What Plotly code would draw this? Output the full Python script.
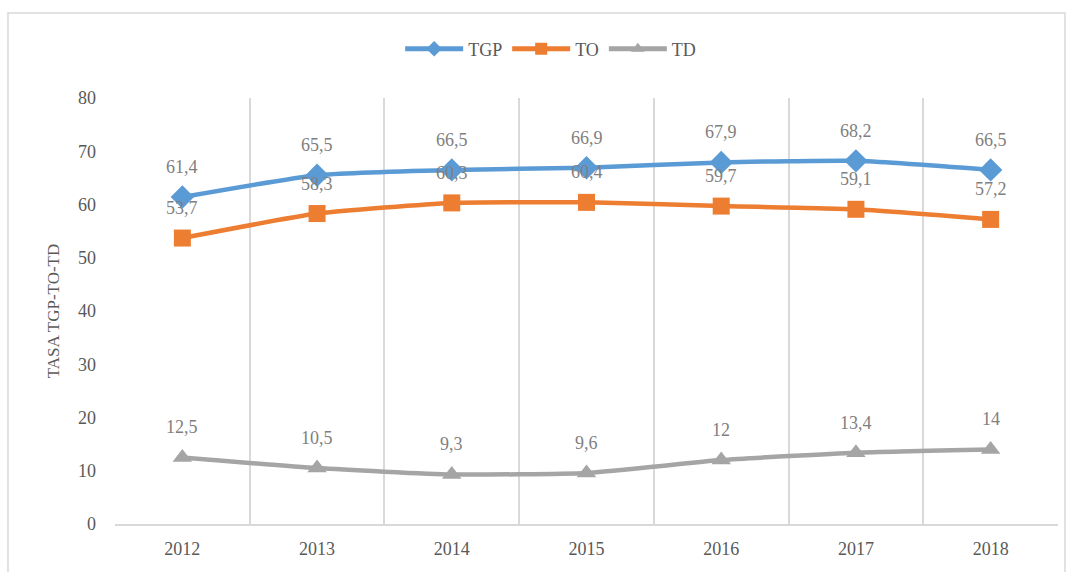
import plotly.graph_objects as go

years = ["2012", "2013", "2014", "2015", "2016", "2017", "2018"]
tgp = [61.4, 65.5, 66.5, 66.9, 67.9, 68.2, 66.5]
to = [53.7, 58.3, 60.3, 60.4, 59.7, 59.1, 57.2]
td = [12.5, 10.5, 9.3, 9.6, 12, 13.4, 14]
y_ticks = [0, 10, 20, 30, 40, 50, 60, 70, 80]

def fmt(v):
    return ("%g" % v).replace(".", ",")

FONT = "Liberation Serif"
TXT = "#595959"

series = [
    ("TGP", tgp, "#5B9BD5", "diamond", 18),
    ("TO", to, "#ED7D31", "square", 17),
    ("TD", td, "#A5A5A5", "triangle-up", 17),
]

fig = go.Figure()
annotations = []
for name, vals, color, sym, msize in series:
    fig.add_trace(go.Scatter(
        x=years, y=vals, name=name, mode="lines+markers",
        line=dict(color=color, width=4.5, shape="spline", smoothing=0.5),
        marker=dict(symbol=sym, size=msize, color=color),
    ))
    for i, v in enumerate(vals):
        annotations.append(dict(
            x=i, y=v, xref="x", yref="y", text=fmt(v), showarrow=False, yshift=30,
            font=dict(family=FONT, size=18, color="#7F7F7F"),
        ))

fig.update_layout(
    width=1073, height=572,
    paper_bgcolor="white", plot_bgcolor="white",
    margin=dict(l=115, r=15, t=98, b=48, autoexpand=False),
    font=dict(family=FONT, size=18, color=TXT),
    showlegend=True,
    legend=dict(orientation="h", x=0.462, xanchor="center", y=1.115, yanchor="middle",
                bgcolor="rgba(0,0,0,0)", itemsizing="constant",
                font=dict(family=FONT, size=18, color=TXT), itemwidth=58),
    annotations=annotations,
    shapes=[dict(type="rect", xref="paper", yref="paper",
                 x0=-0.1135, x1=1.0074, y0=-0.2, y1=1.1995,
                 line=dict(color="#D9D9D9", width=1.5), layer="below")],
)
fig.update_xaxes(
    type="category", range=[-0.5, 6.5], tickson="boundaries",
    showgrid=True, gridcolor="#D9D9D9", gridwidth=1.5,
    showline=True, linecolor="#D9D9D9", linewidth=1.5,
    ticks="", ticklabelstandoff=8,
    tickfont=dict(family=FONT, size=18, color=TXT),
)
fig.update_yaxes(
    range=[0, 80], tickvals=y_ticks, showgrid=False, zeroline=False,
    showline=False, ticks="", ticklen=0, ticklabelstandoff=18,
    tickfont=dict(family=FONT, size=18, color=TXT),
    title=dict(text="TASA TGP-TO-TD", font=dict(family=FONT, size=17, color=TXT), standoff=14),
)

fig.write_html("out.html", config={"displayModeBar": False},
               post_script="document.body.style.margin='0';")
